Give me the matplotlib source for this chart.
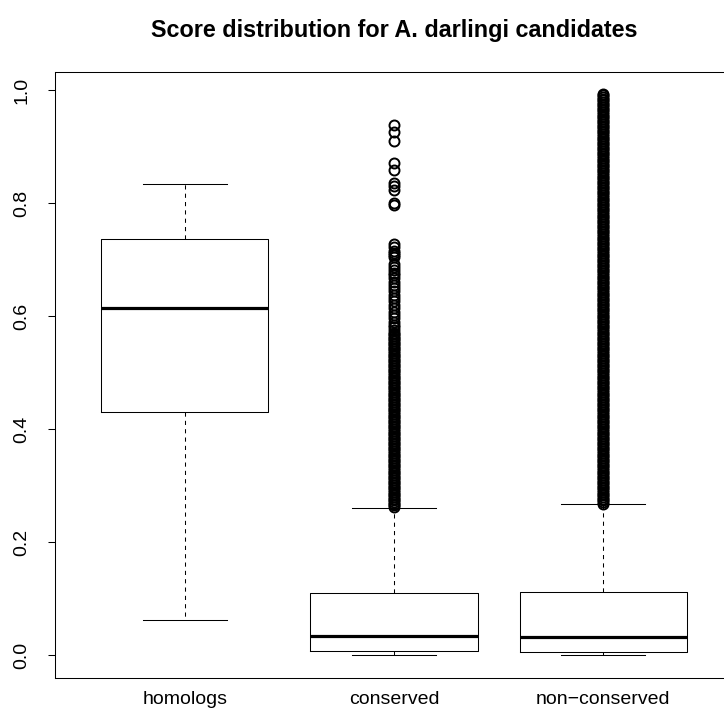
import matplotlib
matplotlib.use("Agg")
import numpy as np
import matplotlib.pyplot as plt

plt.rcParams['font.family'] = ['Liberation Sans', 'DejaVu Sans']

# box statistics
groups = ["homologs", "conserved", "non\u2212conserved"]
whisker_low = [0.062, 0.000, 0.000]
q1 = [0.431, 0.007, 0.006]
median = [0.614, 0.034, 0.033]
q3 = [0.737, 0.110, 0.111]
whisker_high = [0.834, 0.260, 0.268]

# outliers (thousandths)
homolog_out = []
conserved_out = [
	262, 265, 268, 271, 274, 277, 280, 283, 286, 289,
	292, 295, 298, 301, 304, 307, 310, 313, 316, 319,
	322, 325, 328, 331, 334, 337, 340, 343, 346, 349,
	352, 355, 358, 361, 364, 367, 370, 373, 376, 379,
	382, 385, 388, 391, 394, 397, 400, 403, 406, 409,
	412, 415, 418, 421, 424, 427, 430, 433, 436, 439,
	442, 445, 448, 451, 454, 457, 460, 463, 466, 469,
	472, 475, 478, 481, 484, 487, 490, 493, 496, 499,
	502, 505, 508, 511, 514, 517, 520, 523, 526, 529,
	532, 535, 538, 541, 544, 547, 550, 553, 556, 559,
	562, 565, 568, 571, 575, 580, 585, 590, 596, 602,
	608, 614, 620, 626, 632, 638, 644, 650, 655, 660,
	667, 672, 676, 682, 687, 692, 704, 708, 712, 716,
	722, 728, 796, 800, 823, 830, 835, 858, 871, 910,
	926, 938]
nonconserved_out = [
	268, 271, 274, 277, 280, 283, 286, 289, 292, 295,
	298, 301, 304, 307, 310, 313, 316, 319, 322, 325,
	328, 331, 334, 337, 340, 343, 346, 349, 352, 355,
	358, 361, 364, 367, 370, 373, 376, 379, 382, 385,
	388, 391, 394, 397, 400, 403, 406, 409, 412, 415,
	418, 421, 424, 427, 430, 433, 436, 439, 442, 445,
	448, 451, 454, 457, 460, 463, 466, 469, 472, 475,
	478, 481, 484, 487, 490, 493, 496, 499, 502, 505,
	508, 511, 514, 517, 520, 523, 526, 529, 532, 535,
	538, 541, 544, 547, 550, 553, 556, 559, 562, 565,
	568, 571, 574, 577, 580, 583, 586, 589, 592, 595,
	598, 601, 604, 607, 610, 613, 616, 619, 622, 625,
	628, 631, 634, 637, 640, 643, 646, 649, 652, 655,
	658, 661, 664, 667, 670, 673, 676, 679, 682, 685,
	688, 691, 694, 697, 700, 703, 706, 709, 712, 715,
	718, 721, 724, 727, 730, 733, 736, 739, 742, 745,
	748, 751, 754, 757, 760, 763, 766, 769, 772, 775,
	778, 781, 784, 787, 790, 793, 796, 799, 802, 805,
	808, 811, 814, 817, 820, 823, 826, 829, 832, 835,
	838, 841, 844, 847, 850, 853, 856, 859, 862, 865,
	868, 871, 874, 877, 880, 883, 886, 889, 892, 895,
	898, 901, 904, 907, 910, 913, 916, 919, 922, 925,
	928, 931, 934, 937, 940, 943, 946, 949, 952, 955,
	958, 961, 964, 967, 970, 973, 976, 979, 982, 985,
	988, 991, 993]
outliers = [homolog_out, conserved_out, nonconserved_out]

stats = []
for i in range(len(groups)):
	stats.append(dict(label=groups[i], whislo=whisker_low[i], q1=q1[i], med=median[i],
					  q3=q3[i], whishi=whisker_high[i],
					  fliers=np.array(outliers[i]) / 1000.0))

fig = plt.figure(figsize=(7.24, 7.23), dpi=100)
# axes box runs a bit past the right edge, like the original
ax = fig.add_axes([55 / 724, 45.4 / 723, 678 / 724, 606 / 723])

lw = 0.75
ax.bxp(stats, positions=[1, 2, 3], widths=0.8, capwidths=0.4,
	   boxprops=dict(color="black", linewidth=lw),
	   medianprops=dict(color="black", linewidth=2.3, solid_capstyle="butt"),
	   whiskerprops=dict(color="black", linewidth=lw, linestyle=(0, (4, 4))),
	   capprops=dict(color="black", linewidth=lw),
	   flierprops=dict(marker="o", markerfacecolor="none", markeredgecolor="black",
					   markersize=7.2, markeredgewidth=1.4, linestyle="none"))

ax.set_xlim(0.38, 3.62)
ax.set_ylim(-0.0397, 1.0327)
ax.set_yticks([0.0, 0.2, 0.4, 0.6, 0.8, 1.0])
ax.set_yticklabels(["0.0", "0.2", "0.4", "0.6", "0.8", "1.0"], rotation=90, va="center")
ax.tick_params(axis="y", length=5, width=lw, pad=13, labelsize=14)
ax.tick_params(axis="x", length=0, pad=10, labelsize=14)
for s in ax.spines.values():
	s.set_linewidth(lw)

fig.text(394 / 724, 1 - 31 / 723, "Score distribution for A. darlingi candidates",
		 ha="center", va="center", fontsize=16.8, fontweight="bold")

fig.savefig("out.png", dpi=100)
